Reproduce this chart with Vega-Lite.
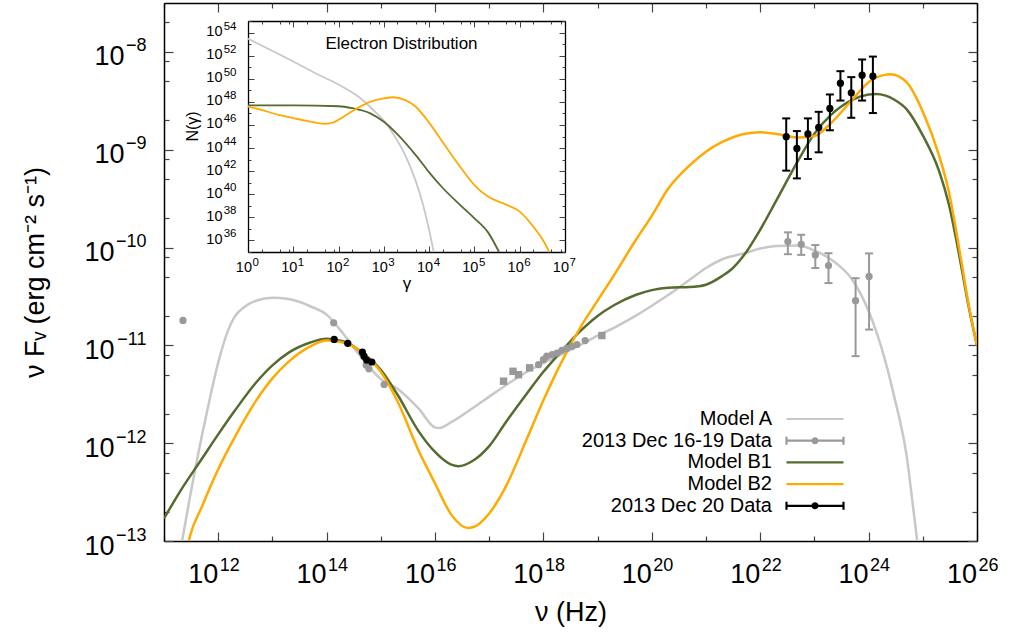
{
"$schema": "https://vega.github.io/schema/vega-lite/v6.json",
"width": 813, "height": 538,
"autosize": {"type": "none"},
"padding": {"left": 164, "top": 3, "right": 32, "bottom": 92},
"background": "white",
"config": {"view": {"stroke": null}, "font": "Liberation Sans", "axis": {"grid": false, "labelColor": "#000000", "titleColor": "#000000", "labelFont": "Liberation Sans", "titleFont": "Liberation Sans", "titleFontWeight": "normal"}},
"datasets": {
"models": [
{"nu":2e11,"flux":7.9e-14,"series":"Model A"},{"nu":3e11,"flux":2.79e-13,"series":"Model A"},{"nu":5e11,"flux":1.19e-12,"series":"Model A"},{"nu":7e11,"flux":2.85e-12,"series":"Model A"},{"nu":1e12,"flux":6.65e-12,"series":"Model A"},{"nu":1.5e12,"flux":1.39e-11,"series":"Model A"},{"nu":2e12,"flux":1.95e-11,"series":"Model A"},{"nu":3e12,"flux":2.45e-11,"series":"Model A"},{"nu":5e12,"flux":2.86e-11,"series":"Model A"},{"nu":1e13,"flux":3.07e-11,"series":"Model A"},{"nu":2e13,"flux":2.97e-11,"series":"Model A"},{"nu":5e13,"flux":2.51e-11,"series":"Model A"},{"nu":1e14,"flux":2.06e-11,"series":"Model A"},{"nu":2e14,"flux":1.33e-11,"series":"Model A"},{"nu":3e14,"flux":9.9e-12,"series":"Model A"},{"nu":5e14,"flux":6.86e-12,"series":"Model A"},{"nu":1e15,"flux":4.52e-12,"series":"Model A"},{"nu":2e15,"flux":3.63e-12,"series":"Model A"},{"nu":5e15,"flux":2.26e-12,"series":"Model A"},{"nu":1e16,"flux":1.45e-12,"series":"Model A"},{"nu":1.2e16,"flux":1.43e-12,"series":"Model A"},{"nu":2e16,"flux":1.64e-12,"series":"Model A"},{"nu":5e16,"flux":2.29e-12,"series":"Model A"},{"nu":1e17,"flux":2.99e-12,"series":"Model A"},{"nu":2e17,"flux":3.89e-12,"series":"Model A"},{"nu":5e17,"flux":5.37e-12,"series":"Model A"},{"nu":1e18,"flux":6.61e-12,"series":"Model A"},{"nu":2e18,"flux":7.94e-12,"series":"Model A"},{"nu":5e18,"flux":1.02e-11,"series":"Model A"},{"nu":1e19,"flux":1.26e-11,"series":"Model A"},{"nu":2e19,"flux":1.51e-11,"series":"Model A"},{"nu":5e19,"flux":2.0e-11,"series":"Model A"},{"nu":1e20,"flux":2.54e-11,"series":"Model A"},{"nu":2e20,"flux":3.27e-11,"series":"Model A"},{"nu":5e20,"flux":4.68e-11,"series":"Model A"},{"nu":1e21,"flux":6.17e-11,"series":"Model A"},{"nu":2e21,"flux":7.59e-11,"series":"Model A"},{"nu":5e21,"flux":8.71e-11,"series":"Model A"},{"nu":1e22,"flux":9.77e-11,"series":"Model A"},{"nu":2e22,"flux":1.035e-10,"series":"Model A"},{"nu":5e22,"flux":1.05e-10,"series":"Model A"},{"nu":1e23,"flux":9.33e-11,"series":"Model A"},{"nu":2e23,"flux":7.59e-11,"series":"Model A"},{"nu":5e23,"flux":4.68e-11,"series":"Model A"},{"nu":1e24,"flux":2.24e-11,"series":"Model A"},{"nu":2e24,"flux":7.14e-12,"series":"Model A"},{"nu":3e24,"flux":2.92e-12,"series":"Model A"},{"nu":5e24,"flux":7.6e-13,"series":"Model A"},{"nu":7e24,"flux":1.72e-13,"series":"Model A"},{"nu":9e24,"flux":5.5e-14,"series":"Model A"},
{"nu":1e11,"flux":1.70e-13,"series":"Model B1"},{"nu":2e11,"flux":3.24e-13,"series":"Model B1"},{"nu":5e11,"flux":6.93e-13,"series":"Model B1"},{"nu":1e12,"flux":1.23e-12,"series":"Model B1"},{"nu":2e12,"flux":2.13e-12,"series":"Model B1"},{"nu":5e12,"flux":4.17e-12,"series":"Model B1"},{"nu":1e13,"flux":6.25e-12,"series":"Model B1"},{"nu":2e13,"flux":8.43e-12,"series":"Model B1"},{"nu":5e13,"flux":1.07e-11,"series":"Model B1"},{"nu":1e14,"flux":1.17e-11,"series":"Model B1"},{"nu":2e14,"flux":1.10e-11,"series":"Model B1"},{"nu":5e14,"flux":8.07e-12,"series":"Model B1"},{"nu":1e15,"flux":5.62e-12,"series":"Model B1"},{"nu":2e15,"flux":3.18e-12,"series":"Model B1"},{"nu":5e15,"flux":1.32e-12,"series":"Model B1"},{"nu":1e16,"flux":8.13e-13,"series":"Model B1"},{"nu":2e16,"flux":6.03e-13,"series":"Model B1"},{"nu":2.7e16,"flux":5.82e-13,"series":"Model B1"},{"nu":5e16,"flux":6.61e-13,"series":"Model B1"},{"nu":1e17,"flux":9.33e-13,"series":"Model B1"},{"nu":2e17,"flux":1.62e-12,"series":"Model B1"},{"nu":5e17,"flux":3.24e-12,"series":"Model B1"},{"nu":1e18,"flux":5.37e-12,"series":"Model B1"},{"nu":2e18,"flux":8.32e-12,"series":"Model B1"},{"nu":5e18,"flux":1.43e-11,"series":"Model B1"},{"nu":1e19,"flux":2.0e-11,"series":"Model B1"},{"nu":2e19,"flux":2.57e-11,"series":"Model B1"},{"nu":5e19,"flux":3.27e-11,"series":"Model B1"},{"nu":1e20,"flux":3.67e-11,"series":"Model B1"},{"nu":2e20,"flux":3.89e-11,"series":"Model B1"},{"nu":5e20,"flux":3.94e-11,"series":"Model B1"},{"nu":1e21,"flux":4.17e-11,"series":"Model B1"},{"nu":2e21,"flux":5.13e-11,"series":"Model B1"},{"nu":3e21,"flux":6.03e-11,"series":"Model B1"},{"nu":5e21,"flux":8.32e-11,"series":"Model B1"},{"nu":1e22,"flux":1.52e-10,"series":"Model B1"},{"nu":2e22,"flux":3.05e-10,"series":"Model B1"},{"nu":5e22,"flux":7.73e-10,"series":"Model B1"},{"nu":1e23,"flux":1.46e-9,"series":"Model B1"},{"nu":2e23,"flux":2.26e-9,"series":"Model B1"},{"nu":5e23,"flux":3.24e-9,"series":"Model B1"},{"nu":1e24,"flux":3.67e-9,"series":"Model B1"},{"nu":1.4e24,"flux":3.72e-9,"series":"Model B1"},{"nu":2e24,"flux":3.59e-9,"series":"Model B1"},{"nu":3e24,"flux":3.24e-9,"series":"Model B1"},{"nu":5e24,"flux":2.60e-9,"series":"Model B1"},{"nu":1e25,"flux":1.40e-9,"series":"Model B1"},{"nu":2e25,"flux":6.03e-10,"series":"Model B1"},{"nu":3e25,"flux":2.82e-10,"series":"Model B1"},{"nu":5e25,"flux":6.92e-11,"series":"Model B1"},{"nu":7e25,"flux":2.51e-11,"series":"Model B1"},{"nu":1e26,"flux":1.0e-11,"series":"Model B1"},
{"nu":2.5e11,"flux":7.08e-14,"series":"Model B2"},{"nu":3e11,"flux":1.11e-13,"series":"Model B2"},{"nu":5e11,"flux":2.24e-13,"series":"Model B2"},{"nu":1e12,"flux":5.42e-13,"series":"Model B2"},{"nu":2e12,"flux":1.14e-12,"series":"Model B2"},{"nu":5e12,"flux":2.72e-12,"series":"Model B2"},{"nu":1e13,"flux":4.60e-12,"series":"Model B2"},{"nu":2e13,"flux":6.82e-12,"series":"Model B2"},{"nu":5e13,"flux":9.77e-12,"series":"Model B2"},{"nu":1e14,"flux":1.12e-11,"series":"Model B2"},{"nu":2e14,"flux":1.07e-11,"series":"Model B2"},{"nu":5e14,"flux":8.07e-12,"series":"Model B2"},{"nu":1e15,"flux":5.37e-12,"series":"Model B2"},{"nu":2e15,"flux":2.73e-12,"series":"Model B2"},{"nu":5e15,"flux":8.36e-13,"series":"Model B2"},{"nu":1e16,"flux":3.89e-13,"series":"Model B2"},{"nu":2e16,"flux":1.86e-13,"series":"Model B2"},{"nu":4e16,"flux":1.36e-13,"series":"Model B2"},{"nu":5e16,"flux":1.38e-13,"series":"Model B2"},{"nu":1e17,"flux":1.91e-13,"series":"Model B2"},{"nu":2e17,"flux":3.55e-13,"series":"Model B2"},{"nu":5e17,"flux":1.12e-12,"series":"Model B2"},{"nu":1e18,"flux":2.74e-12,"series":"Model B2"},{"nu":2e18,"flux":6.21e-12,"series":"Model B2"},{"nu":5e18,"flux":1.58e-11,"series":"Model B2"},{"nu":1e19,"flux":2.87e-11,"series":"Model B2"},{"nu":2e19,"flux":5.2e-11,"series":"Model B2"},{"nu":5e19,"flux":1.18e-10,"series":"Model B2"},{"nu":1e20,"flux":2.11e-10,"series":"Model B2"},{"nu":2e20,"flux":3.98e-10,"series":"Model B2"},{"nu":5e20,"flux":6.92e-10,"series":"Model B2"},{"nu":1e21,"flux":9.55e-10,"series":"Model B2"},{"nu":2e21,"flux":1.20e-9,"series":"Model B2"},{"nu":5e21,"flux":1.45e-9,"series":"Model B2"},{"nu":1e22,"flux":1.51e-9,"series":"Model B2"},{"nu":2e22,"flux":1.45e-9,"series":"Model B2"},{"nu":5e22,"flux":1.33e-9,"series":"Model B2"},{"nu":1e23,"flux":1.38e-9,"series":"Model B2"},{"nu":2e23,"flux":1.86e-9,"series":"Model B2"},{"nu":5e23,"flux":3.24e-9,"series":"Model B2"},{"nu":1e24,"flux":4.90e-9,"series":"Model B2"},{"nu":2e24,"flux":5.82e-9,"series":"Model B2"},{"nu":2.5e24,"flux":5.89e-9,"series":"Model B2"},{"nu":5e24,"flux":4.90e-9,"series":"Model B2"},{"nu":1e25,"flux":2.45e-9,"series":"Model B2"},{"nu":2e25,"flux":8.71e-10,"series":"Model B2"},{"nu":3e25,"flux":3.80e-10,"series":"Model B2"},{"nu":5e25,"flux":7.94e-11,"series":"Model B2"},{"nu":7e25,"flux":2.63e-11,"series":"Model B2"},{"nu":1e26,"flux":1.0e-11,"series":"Model B2"}
],
"electrons": [
{"gamma":1,"N":2.95e53,"series":"Model A"},{"gamma":10,"N":3.16e51,"series":"Model A"},{"gamma":30,"N":3.16e50,"series":"Model A"},{"gamma":100,"N":3.16e49,"series":"Model A"},{"gamma":300,"N":2.14e48,"series":"Model A"},{"gamma":600,"N":1.78e47,"series":"Model A"},{"gamma":1000,"N":2.34e46,"series":"Model A"},{"gamma":1500,"N":2.63e45,"series":"Model A"},{"gamma":2000,"N":4.17e44,"series":"Model A"},{"gamma":3000,"N":2.24e43,"series":"Model A"},{"gamma":5000,"N":1.58e41,"series":"Model A"},{"gamma":7000,"N":2.4e39,"series":"Model A"},{"gamma":10000,"N":7.94e36,"series":"Model A"},{"gamma":12600,"N":1e35,"series":"Model A"},
{"gamma":1,"N":5.01e47,"series":"Model B1"},{"gamma":10,"N":5.01e47,"series":"Model B1"},{"gamma":100,"N":4.17e47,"series":"Model B1"},{"gamma":200,"N":2.82e47,"series":"Model B1"},{"gamma":500,"N":1e47,"series":"Model B1"},{"gamma":1000,"N":1.86e46,"series":"Model B1"},{"gamma":2000,"N":1.51e45,"series":"Model B1"},{"gamma":5000,"N":2.57e43,"series":"Model B1"},{"gamma":10000,"N":7.94e41,"series":"Model B1"},{"gamma":20000,"N":3.47e40,"series":"Model B1"},{"gamma":50000,"N":1.05e39,"series":"Model B1"},{"gamma":100000,"N":8.32e37,"series":"Model B1"},{"gamma":200000,"N":5.01e36,"series":"Model B1"},{"gamma":350000,"N":1e35,"series":"Model B1"},
{"gamma":1,"N":3.98e47,"series":"Model B2"},{"gamma":2,"N":2.0e47,"series":"Model B2"},{"gamma":5,"N":7.08e46,"series":"Model B2"},{"gamma":10,"N":3.98e46,"series":"Model B2"},{"gamma":20,"N":2.24e46,"series":"Model B2"},{"gamma":50,"N":1.26e46,"series":"Model B2"},{"gamma":80,"N":1.78e46,"series":"Model B2"},{"gamma":100,"N":2.82e46,"series":"Model B2"},{"gamma":200,"N":1.58e47,"series":"Model B2"},{"gamma":500,"N":1e48,"series":"Model B2"},{"gamma":1000,"N":2.0e48,"series":"Model B2"},{"gamma":1600,"N":2.51e48,"series":"Model B2"},{"gamma":3000,"N":1.41e48,"series":"Model B2"},{"gamma":5000,"N":3.98e47,"series":"Model B2"},{"gamma":10000,"N":1.58e46,"series":"Model B2"},{"gamma":20000,"N":3.16e44,"series":"Model B2"},{"gamma":50000,"N":2.0e42,"series":"Model B2"},{"gamma":100000,"N":6.31e40,"series":"Model B2"},{"gamma":200000,"N":6.31e39,"series":"Model B2"},{"gamma":500000,"N":1.26e39,"series":"Model B2"},{"gamma":1000000,"N":3.16e38,"series":"Model B2"},{"gamma":2000000,"N":1.58e37,"series":"Model B2"},{"gamma":3000000,"N":1.78e36,"series":"Model B2"},{"gamma":4000000,"N":2.51e35,"series":"Model B2"},{"gamma":4470000,"N":1e35,"series":"Model B2"}
],
"points": [
{"nu":2.24e11,"flux":1.8e-11,"series":"2013 Dec 16-19 Data","instrument":"radio"},
{"nu":1.35e14,"flux":1.7e-11,"series":"2013 Dec 16-19 Data","instrument":"optical"},
{"nu":5.37e14,"flux":6.31e-12,"series":"2013 Dec 16-19 Data","instrument":"optical"},
{"nu":6.03e14,"flux":5.75e-12,"series":"2013 Dec 16-19 Data","instrument":"optical"},
{"nu":1.15e15,"flux":3.98e-12,"series":"2013 Dec 16-19 Data","instrument":"UV"},
{"nu":1.84e17,"flux":4.30e-12,"series":"2013 Dec 16-19 Data","instrument":"Swift-XRT"},
{"nu":2.75e17,"flux":5.43e-12,"series":"2013 Dec 16-19 Data","instrument":"Swift-XRT"},
{"nu":3.47e17,"flux":5.01e-12,"series":"2013 Dec 16-19 Data","instrument":"Swift-XRT"},
{"nu":5.56e17,"flux":5.89e-12,"series":"2013 Dec 16-19 Data","instrument":"Swift-XRT"},
{"nu":1.2e19,"flux":1.26e-11,"series":"2013 Dec 16-19 Data","instrument":"Swift-BAT"},
{"nu":8.13e17,"flux":6.35e-12,"series":"2013 Dec 16-19 Data","instrument":"NuSTAR"},
{"nu":1.0e18,"flux":7.14e-12,"series":"2013 Dec 16-19 Data","instrument":"NuSTAR"},
{"nu":1.15e18,"flux":7.76e-12,"series":"2013 Dec 16-19 Data","instrument":"NuSTAR"},
{"nu":1.45e18,"flux":8.04e-12,"series":"2013 Dec 16-19 Data","instrument":"NuSTAR"},
{"nu":1.78e18,"flux":8.32e-12,"series":"2013 Dec 16-19 Data","instrument":"NuSTAR"},
{"nu":2.19e18,"flux":8.91e-12,"series":"2013 Dec 16-19 Data","instrument":"NuSTAR"},
{"nu":2.69e18,"flux":9.33e-12,"series":"2013 Dec 16-19 Data","instrument":"NuSTAR"},
{"nu":3.35e18,"flux":9.77e-12,"series":"2013 Dec 16-19 Data","instrument":"NuSTAR"},
{"nu":4.17e18,"flux":1.02e-11,"series":"2013 Dec 16-19 Data","instrument":"NuSTAR"},
{"nu":5.89e18,"flux":1.12e-11,"series":"2013 Dec 16-19 Data","instrument":"NuSTAR"},
{"nu":3.24e22,"flux":1.15e-10,"lo":8.55e-11,"hi":1.43e-10,"series":"2013 Dec 16-19 Data","instrument":"Fermi-LAT"},
{"nu":5.71e22,"flux":1.08e-10,"lo":8.41e-11,"hi":1.35e-10,"series":"2013 Dec 16-19 Data","instrument":"Fermi-LAT"},
{"nu":1.04e23,"flux":8.41e-11,"lo":6.17e-11,"hi":1.06e-10,"series":"2013 Dec 16-19 Data","instrument":"Fermi-LAT"},
{"nu":1.82e23,"flux":6.55e-11,"lo":4.33e-11,"hi":8.75e-11,"series":"2013 Dec 16-19 Data","instrument":"Fermi-LAT"},
{"nu":5.75e23,"flux":2.86e-11,"lo":7.76e-12,"hi":4.86e-11,"series":"2013 Dec 16-19 Data","instrument":"Fermi-LAT"},
{"nu":1.02e24,"flux":5.06e-11,"lo":1.45e-11,"hi":8.71e-11,"series":"2013 Dec 16-19 Data","instrument":"Fermi-LAT"},
{"nu":1.38e14,"flux":1.15e-11,"series":"2013 Dec 20 Data","instrument":"optical"},
{"nu":2.45e14,"flux":1.05e-11,"series":"2013 Dec 20 Data","instrument":"optical"},
{"nu":4.57e14,"flux":8.51e-12,"series":"2013 Dec 20 Data","instrument":"optical"},
{"nu":4.90e14,"flux":7.76e-12,"series":"2013 Dec 20 Data","instrument":"optical"},
{"nu":5.50e14,"flux":7.08e-12,"series":"2013 Dec 20 Data","instrument":"optical"},
{"nu":6.84e14,"flux":6.76e-12,"series":"2013 Dec 20 Data","instrument":"optical"},
{"nu":3.02e22,"flux":1.36e-9,"lo":6.11e-10,"hi":2.09e-9,"series":"2013 Dec 20 Data","instrument":"Fermi-LAT"},
{"nu":4.75e22,"flux":1.03e-9,"lo":5.09e-10,"hi":1.55e-9,"series":"2013 Dec 20 Data","instrument":"Fermi-LAT"},
{"nu":7.59e22,"flux":1.45e-9,"lo":8.04e-10,"hi":2.09e-9,"series":"2013 Dec 20 Data","instrument":"Fermi-LAT"},
{"nu":1.20e23,"flux":1.69e-9,"lo":9.40e-10,"hi":2.44e-9,"series":"2013 Dec 20 Data","instrument":"Fermi-LAT"},
{"nu":1.93e23,"flux":2.64e-9,"lo":1.58e-9,"hi":3.67e-9,"series":"2013 Dec 20 Data","instrument":"Fermi-LAT"},
{"nu":3.02e23,"flux":4.79e-9,"lo":3.18e-9,"hi":6.35e-9,"series":"2013 Dec 20 Data","instrument":"Fermi-LAT"},
{"nu":4.79e23,"flux":3.82e-9,"lo":2.12e-9,"hi":5.52e-9,"series":"2013 Dec 20 Data","instrument":"Fermi-LAT"},
{"nu":7.59e23,"flux":5.78e-9,"lo":3.18e-9,"hi":8.36e-9,"series":"2013 Dec 20 Data","instrument":"Fermi-LAT"},
{"nu":1.20e24,"flux":5.65e-9,"lo":2.37e-9,"hi":8.95e-9,"series":"2013 Dec 20 Data","instrument":"Fermi-LAT"}
]
},
"layer": [
{
"layer": [
{
"data": {"name": "points"},
"mark": {"type": "point", "filled": false},
"encoding": {
"opacity": {"value": 0},
"shape": {"field": "series", "type": "nominal", "scale": {"domain": ["Model A","2013 Dec 16-19 Data","Model B1","Model B2","2013 Dec 20 Data"], "range": ["M-3,0L3,0","M-3,-0.42L-3,0.42M-3,0L3,0M3,-0.42L3,0.42M0.26,0A0.26,0.26,0,1,1,-0.26,0A0.26,0.26,0,1,1,0.26,0ZM0.12,0A0.12,0.12,0,1,1,-0.12,0A0.12,0.12,0,1,1,0.12,0Z","M-3,0L3,0","M-3,0L3,0","M-3,-0.42L-3,0.42M-3,0L3,0M3,-0.42L3,0.42M0.26,0A0.26,0.26,0,1,1,-0.26,0A0.26,0.26,0,1,1,0.26,0ZM0.12,0A0.12,0.12,0,1,1,-0.12,0A0.12,0.12,0,1,1,0.12,0Z"]},
"legend": {"title": null, "orient": "none", "legendX": 640, "legendY": 405, "labelAlign": "right", "labelOffset": -54, "labelFontSize": 20, "labelFont": "Liberation Sans", "labelColor": "#000000", "labelLimit": 400, "labelBaseline": "middle", "symbolSize": 361, "symbolStrokeWidth": 2.2, "symbolOpacity": 1, "rowPadding": 0.7, "padding": 0, "symbolOffset": 0}},
"stroke": {"field": "series", "type": "nominal", "scale": {"domain": ["Model A","2013 Dec 16-19 Data","Model B1","Model B2","2013 Dec 20 Data"], "range": ["#c8c8c8","#999999","#556b2f","#ffaa00","#000000"]},
"legend": {"title": null, "orient": "none", "legendX": 640, "legendY": 405, "labelAlign": "right", "labelOffset": -54, "labelFontSize": 20, "labelFont": "Liberation Sans", "labelColor": "#000000", "labelLimit": 400, "labelBaseline": "middle", "symbolSize": 361, "symbolStrokeWidth": 2.2, "symbolOpacity": 1, "rowPadding": 0.7, "padding": 0, "symbolOffset": 0}}
}
},
{
"data": {"name": "models"},
"mark": {"type": "line", "strokeWidth": 2.5, "clip": true, "interpolate": "monotone"},
"encoding": {
"x": {"field": "nu", "type": "quantitative", "scale": {"type": "log", "domain": [1e11, 1e26], "nice": false},
"axis": {"orient": "bottom", "values": [1e11,1e12,1e13,1e14,1e15,1e16,1e17,1e18,1e19,1e20,1e21,1e22,1e23,1e24,1e25,1e26],
"labelExpr": "round(log(datum.value)/LN10)%2==0 ? '10' : ''",
"labelFontSize": 27, "labelBaseline": "alphabetic", "labelAlign": "right", "labelOffset": -0.5, "labelPadding": 50, "labelFlush": false, "labelOverlap": false,
"tickSize": {"condition": {"test": "round(log(datum.value)/LN10)%2==0", "value": -9}, "value": -5},
"tickColor": "#444444", "tickWidth": 1.2, "domainColor": "#000000", "domainWidth": 1.5,
"title": "ν (Hz)", "titleFontSize": 27, "titleY": 79, "titleBaseline": "alphabetic"}},
"y": {"field": "flux", "type": "quantitative", "scale": {"type": "log", "domain": [1e-13, 3.16e-8], "nice": false},
"axis": {"orient": "left", "values": [1e-13,2e-13,5e-13,8e-13,1e-12,2e-12,5e-12,8e-12,1e-11,2e-11,5e-11,8e-11,1e-10,2e-10,5e-10,8e-10,1e-9,2e-9,5e-9,8e-9,1e-8,2e-8],
"labelExpr": "abs(log(datum.value)/LN10-round(log(datum.value)/LN10))<0.01 ? '10' : ''",
"labelFontSize": 27, "labelBaseline": "alphabetic", "labelAlign": "right", "labelOffset": 13,
"labelPadding": {"condition": {"test": "datum.value < 3e-10", "value": 59}, "value": 49}, "labelFlush": false, "labelOverlap": false,
"tickSize": {"condition": {"test": "abs(log(datum.value)/LN10-round(log(datum.value)/LN10))<0.01", "value": -9}, "value": -5},
"tickColor": "#444444", "tickWidth": 1.2, "domainColor": "#000000", "domainWidth": 1.5,
"title": "ν Fᵥ (erg cm⁻² s⁻¹)", "titleFontSize": 27, "titleX": -129, "titleY": 269, "titleAngle": -90, "titleBaseline": "middle", "titleAlign": "center"}},
"stroke": {"field": "series", "type": "nominal", "scale": {"domain": ["Model A","2013 Dec 16-19 Data","Model B1","Model B2","2013 Dec 20 Data"], "range": ["#c8c8c8","#999999","#556b2f","#ffaa00","#000000"]}, "legend": null}
}
},
{
"data": {"name": "models"},
"mark": {"type": "point", "opacity": 0},
"encoding": {
"x": {"field": "nu", "type": "quantitative", "scale": {"type": "log", "domain": [1e11, 1e26], "nice": false},
"axis": {"orient": "bottom", "values": [1e12,1e14,1e16,1e18,1e20,1e22,1e24,1e26],
"labelExpr": "toString(round(log(datum.value)/LN10))",
"labelFontSize": 18, "labelBaseline": "alphabetic", "labelAlign": "left", "labelOffset": 1, "labelPadding": 29, "labelFlush": false, "labelOverlap": false,
"ticks": false, "tickSize": 0, "domain": false, "title": null}},
"y": {"field": "flux", "type": "quantitative", "scale": {"type": "log", "domain": [1e-13, 3.16e-8], "nice": false},
"axis": {"orient": "left", "values": [1e-13,1e-12,1e-11,1e-10,1e-9,1e-8],
"labelExpr": "replace(toString(round(log(datum.value)/LN10)),'-','−')",
"labelFontSize": 18, "labelBaseline": "alphabetic", "labelAlign": "right", "labelOffset": -1, "labelPadding": 18, "labelFlush": false, "labelOverlap": false,
"ticks": false, "tickSize": 0, "domain": false, "title": null}}
}
},
{
"data": {"name": "points"},
"transform": [{"filter": "isValid(datum.lo)"}],
"mark": {"type": "rule", "strokeWidth": 2},
"encoding": {
"x": {"field": "nu", "type": "quantitative", "scale": {"type": "log", "domain": [1e11, 1e26], "nice": false},
"axis": {"orient": "top", "values": [1e11,1e12,1e13,1e14,1e15,1e16,1e17,1e18,1e19,1e20,1e21,1e22,1e23,1e24,1e25,1e26], "labels": false,
"tickSize": {"condition": {"test": "round(log(datum.value)/LN10)%2==0", "value": -9}, "value": -5},
"tickColor": "#444444", "tickWidth": 1.2, "domainColor": "#000000", "domainWidth": 1.5, "title": null}},
"y": {"field": "lo", "type": "quantitative", "scale": {"type": "log", "domain": [1e-13, 3.16e-8], "nice": false},
"axis": {"orient": "right", "values": [1e-13,2e-13,5e-13,8e-13,1e-12,2e-12,5e-12,8e-12,1e-11,2e-11,5e-11,8e-11,1e-10,2e-10,5e-10,8e-10,1e-9,2e-9,5e-9,8e-9,1e-8,2e-8], "labels": false,
"tickSize": {"condition": {"test": "abs(log(datum.value)/LN10-round(log(datum.value)/LN10))<0.01", "value": -9}, "value": -5},
"tickColor": "#444444", "tickWidth": 1.2, "domainColor": "#000000", "domainWidth": 1.5, "title": null}},
"y2": {"field": "hi"},
"stroke": {"field": "series", "type": "nominal", "scale": {"domain": ["Model A","2013 Dec 16-19 Data","Model B1","Model B2","2013 Dec 20 Data"], "range": ["#c8c8c8","#999999","#556b2f","#ffaa00","#000000"]}, "legend": null}
}
},
{
"data": {"name": "points"},
"transform": [{"filter": "isValid(datum.lo)"}],
"mark": {"type": "tick", "orient": "horizontal", "size": 8, "thickness": 2, "opacity": 1},
"encoding": {
"x": {"field": "nu", "type": "quantitative", "scale": {"type": "log", "domain": [1e11, 1e26], "nice": false}, "axis": null},
"y": {"field": "lo", "type": "quantitative", "scale": {"type": "log", "domain": [1e-13, 3.16e-8], "nice": false}, "axis": null},
"fill": {"field": "series", "type": "nominal", "scale": {"domain": ["Model A","2013 Dec 16-19 Data","Model B1","Model B2","2013 Dec 20 Data"], "range": ["#c8c8c8","#999999","#556b2f","#ffaa00","#000000"]}, "legend": null}
}
},
{
"data": {"name": "points"},
"transform": [{"filter": "isValid(datum.hi)"}],
"mark": {"type": "tick", "orient": "horizontal", "size": 8, "thickness": 2, "opacity": 1},
"encoding": {
"x": {"field": "nu", "type": "quantitative", "scale": {"type": "log", "domain": [1e11, 1e26], "nice": false}, "axis": null},
"y": {"field": "hi", "type": "quantitative", "scale": {"type": "log", "domain": [1e-13, 3.16e-8], "nice": false}, "axis": null},
"fill": {"field": "series", "type": "nominal", "scale": {"domain": ["Model A","2013 Dec 16-19 Data","Model B1","Model B2","2013 Dec 20 Data"], "range": ["#c8c8c8","#999999","#556b2f","#ffaa00","#000000"]}, "legend": null}
}
},
{
"data": {"name": "points"},
"transform": [{"filter": "indexof(datum.instrument, 'Swift') < 0"}],
"mark": {"type": "point", "shape": "circle", "filled": true, "size": 52, "opacity": 1, "strokeWidth": 0},
"encoding": {
"x": {"field": "nu", "type": "quantitative", "scale": {"type": "log", "domain": [1e11, 1e26], "nice": false}, "axis": null},
"y": {"field": "flux", "type": "quantitative", "scale": {"type": "log", "domain": [1e-13, 3.16e-8], "nice": false}, "axis": null},
"fill": {"field": "series", "type": "nominal", "scale": {"domain": ["Model A","2013 Dec 16-19 Data","Model B1","Model B2","2013 Dec 20 Data"], "range": ["#c8c8c8","#999999","#556b2f","#ffaa00","#000000"]}, "legend": null}
}
},
{
"data": {"name": "points"},
"transform": [{"filter": "indexof(datum.instrument, 'Swift') >= 0"}],
"mark": {"type": "point", "shape": "square", "filled": true, "size": 55, "opacity": 1, "strokeWidth": 0},
"encoding": {
"x": {"field": "nu", "type": "quantitative", "scale": {"type": "log", "domain": [1e11, 1e26], "nice": false}, "axis": null},
"y": {"field": "flux", "type": "quantitative", "scale": {"type": "log", "domain": [1e-13, 3.16e-8], "nice": false}, "axis": null},
"fill": {"field": "series", "type": "nominal", "scale": {"domain": ["Model A","2013 Dec 16-19 Data","Model B1","Model B2","2013 Dec 20 Data"], "range": ["#c8c8c8","#999999","#556b2f","#ffaa00","#000000"]}, "legend": null}
}
}
],
"resolve": {"axis": {"x": "independent", "y": "independent"}}
},
{
"layer": [
{
"data": {"name": "electrons"},
"mark": {"type": "line", "strokeWidth": 1.8, "interpolate": "monotone"},
"encoding": {
"x": {"field": "gamma", "type": "quantitative", "scale": {"type": "log", "domain": [1, 1e7], "range": [84, 401], "nice": false},
"axis": {"orient": "bottom", "offset": -289, "values": [1,2,5,8,10,20,50,80,100,200,500,800,1000,2000,5000,8000,1e4,2e4,5e4,8e4,1e5,2e5,5e5,8e5,1e6,2e6,5e6,8e6,1e7],
"labelExpr": "abs(log(datum.value)/LN10-round(log(datum.value)/LN10))<0.01 ? '10' : ''",
"labelFontSize": 14.5, "labelBaseline": "alphabetic", "labelAlign": "right", "labelOffset": 3.5, "labelPadding": 25.7, "labelFlush": false, "labelOverlap": false,
"tickSize": {"condition": {"test": "abs(log(datum.value)/LN10-round(log(datum.value)/LN10))<0.01", "value": -6}, "value": -3},
"tickColor": "#444444", "tickWidth": 1, "domainColor": "#000000", "domainWidth": 1.3,
"title": "γ", "titleFontSize": 17, "titleY": 36, "titleBaseline": "alphabetic"}},
"y": {"field": "N", "type": "quantitative", "scale": {"type": "log", "domain": [1e35, 1e55], "range": [249, 18], "nice": false},
"axis": {"orient": "left", "offset": -84, "values": [1e35,1e36,1e37,1e38,1e39,1e40,1e41,1e42,1e43,1e44,1e45,1e46,1e47,1e48,1e49,1e50,1e51,1e52,1e53,1e54,1e55],
"labelExpr": "round(log(datum.value)/LN10)%2==0 ? '10' : ''",
"labelFontSize": 14.5, "labelBaseline": "alphabetic", "labelAlign": "right", "labelOffset": 3, "labelPadding": 32, "labelFlush": false, "labelOverlap": false,
"tickSize": {"condition": {"test": "round(log(datum.value)/LN10)%2==0", "value": -6}, "value": -3},
"tickColor": "#444444", "tickWidth": 1, "domainColor": "#000000", "domainWidth": 1.3,
"title": "N(γ)", "titleFontSize": 16, "titleX": -56, "titleY": 123, "titleAngle": -90, "titleBaseline": "middle", "titleAlign": "center"}},
"stroke": {"field": "series", "type": "nominal", "scale": {"domain": ["Model A","2013 Dec 16-19 Data","Model B1","Model B2","2013 Dec 20 Data"], "range": ["#c8c8c8","#999999","#556b2f","#ffaa00","#000000"]}, "legend": null}
}
},
{
"data": {"name": "electrons"},
"mark": {"type": "point", "opacity": 0},
"encoding": {
"x": {"field": "gamma", "type": "quantitative", "scale": {"type": "log", "domain": [1, 1e7], "range": [84, 401], "nice": false},
"axis": {"orient": "bottom", "offset": -289, "values": [1,10,100,1000,1e4,1e5,1e6,1e7],
"labelExpr": "toString(round(log(datum.value)/LN10))",
"labelFontSize": 11.5, "labelBaseline": "alphabetic", "labelAlign": "left", "labelOffset": 4, "labelPadding": 13, "labelFlush": false, "labelOverlap": false,
"ticks": false, "tickSize": 0, "domain": false, "title": null}},
"y": {"field": "N", "type": "quantitative", "scale": {"type": "log", "domain": [1e35, 1e55], "range": [249, 18], "nice": false},
"axis": {"orient": "left", "offset": -84, "values": [1e36,1e38,1e40,1e42,1e44,1e46,1e48,1e50,1e52,1e54],
"labelExpr": "toString(round(log(datum.value)/LN10))",
"labelFontSize": 11.5, "labelBaseline": "alphabetic", "labelAlign": "right", "labelOffset": -3.5, "labelPadding": 12, "labelFlush": false, "labelOverlap": false,
"ticks": false, "tickSize": 0, "domain": false, "title": null}}
}
},
{
"data": {"name": "electrons"},
"mark": {"type": "line", "strokeWidth": 1.8, "opacity": 0},
"encoding": {
"x": {"field": "gamma", "type": "quantitative", "scale": {"type": "log", "domain": [1, 1e7], "range": [84, 401], "nice": false},
"axis": {"orient": "top", "offset": -18, "values": [1,2,5,8,10,20,50,80,100,200,500,800,1000,2000,5000,8000,1e4,2e4,5e4,8e4,1e5,2e5,5e5,8e5,1e6,2e6,5e6,8e6,1e7], "labels": false,
"tickSize": {"condition": {"test": "abs(log(datum.value)/LN10-round(log(datum.value)/LN10))<0.01", "value": -6}, "value": -3},
"tickColor": "#444444", "tickWidth": 1, "domainColor": "#000000", "domainWidth": 1.3,
"title": "Electron Distribution", "titleFontSize": 17, "titleX": 237, "titleY": 22, "titleBaseline": "middle", "titleAlign": "center", "titleAngle": 0}},
"y": {"field": "N", "type": "quantitative", "scale": {"type": "log", "domain": [1e35, 1e55], "range": [249, 18], "nice": false},
"axis": {"orient": "right", "offset": -412, "values": [1e35,1e36,1e37,1e38,1e39,1e40,1e41,1e42,1e43,1e44,1e45,1e46,1e47,1e48,1e49,1e50,1e51,1e52,1e53,1e54,1e55], "labels": false,
"tickSize": {"condition": {"test": "round(log(datum.value)/LN10)%2==0", "value": -6}, "value": -3},
"tickColor": "#444444", "tickWidth": 1, "domainColor": "#000000", "domainWidth": 1.3, "title": null}},
"stroke": {"field": "series", "type": "nominal", "scale": {"domain": ["Model A","2013 Dec 16-19 Data","Model B1","Model B2","2013 Dec 20 Data"], "range": ["#c8c8c8","#999999","#556b2f","#ffaa00","#000000"]}, "legend": null}
}
}
],
"resolve": {"axis": {"x": "independent", "y": "independent"}}
}
],
"resolve": {"scale": {"x": "independent", "y": "independent"}, "axis": {"x": "independent", "y": "independent"}}
}
